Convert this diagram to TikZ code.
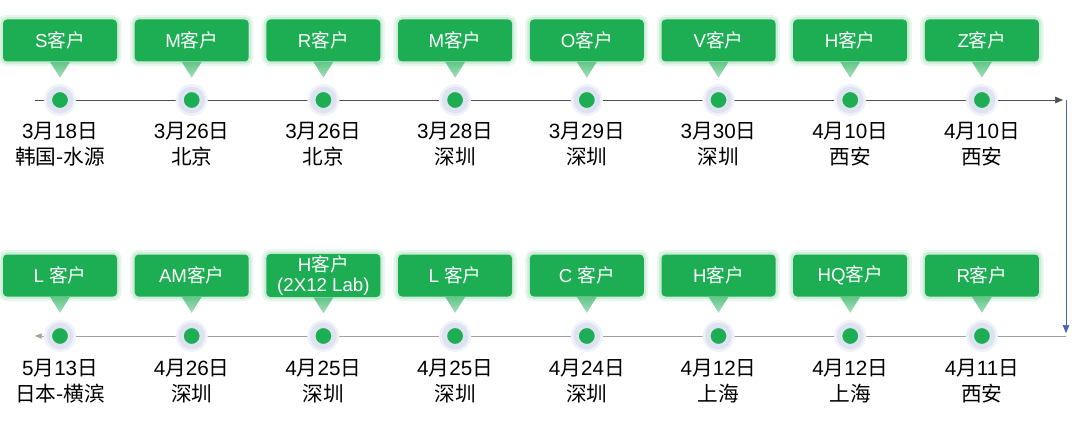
\documentclass[tikz,border=0pt]{standalone}
\usepackage{fontspec}
\setmainfont{Liberation Sans}
\newfontfamily\cjk{Noto Sans CJK SC}
\newcommand{\cn}[1]{{\cjk #1}}
\usetikzlibrary{positioning,arrows.meta}

\definecolor{kgreen}{RGB}{29,174,84}
\definecolor{halo}{RGB}{221,227,240}
\definecolor{tline}{RGB}{160,160,160}
\definecolor{tarrow}{RGB}{80,80,80}
\definecolor{vblue}{RGB}{70,100,175}

\tikzset{
    custbox/.style={fill=kgreen, rounded corners=3pt, text=white,
        minimum width=85.5pt, minimum height=31.5pt, inner sep=1pt,
        align=center, font=\fontsize{14}{15.5}\selectfont,
        preaction={draw=kgreen!10, line width=7pt},
        preaction={draw=kgreen!22, line width=3.5pt}},
    tipshade/.style={top color=kgreen!70, bottom color=kgreen!40},
    dotnode/.style={circle, fill=kgreen, minimum size=16pt, inner sep=0pt,
        draw=halo, line width=4pt,
        preaction={draw=halo!45, line width=8pt}},
    datelabel/.style={anchor=north, inner sep=0pt, align=center,
        font=\fontsize{15.5}{19.5}\selectfont}
}

\begin{document}
\begin{tikzpicture}[x=0.75pt, y=-0.75pt]
    \useasboundingbox (0,0) rectangle (1080,431);

    % Timeline
    \coordinate (tstart) at (35,100);
    \coordinate (tend) at (1063,100);
    \coordinate (turn) at (1066,100);
    \coordinate (tdown) at (1066,333);
    \coordinate (bstart) at (1066,336);
    \coordinate (bend) at (35,336);
    \draw[tline, -{Triangle[length=6pt, width=5pt]}, tarrow] (tstart) -- (tend);
    \draw[vblue, -{Triangle[length=6pt, width=5pt]}] (turn) -- (tdown);
    \draw[tline, -{Triangle[length=5pt, width=4pt]}] (bstart) -- (bend);

    % Top row
    \foreach \i/\cust/\day/\city in {
        1/S\cn{客户}/3\cn{月}18\cn{日}/\cn{韩国-水源},
        2/M\cn{客户}/3\cn{月}26\cn{日}/\cn{北京},
        3/R\cn{客户}/3\cn{月}26\cn{日}/\cn{北京},
        4/M\cn{客户}/3\cn{月}28\cn{日}/\cn{深圳},
        5/O\cn{客户}/3\cn{月}29\cn{日}/\cn{深圳},
        6/V\cn{客户}/3\cn{月}30\cn{日}/\cn{深圳},
        7/H\cn{客户}/4\cn{月}10\cn{日}/\cn{西安},
        8/Z\cn{客户}/4\cn{月}10\cn{日}/\cn{西安}} {
        \node[custbox] (t\i) at ({60+131.7*(\i-1)},40.5) {\cust};
        \shade[tipshade] ([xshift=-7.5pt]t\i.south) -- ([xshift=7.5pt]t\i.south)
            -- ([yshift=-12pt]t\i.south) -- cycle;
        \node[dotnode] (tp\i) at ({60+131.7*(\i-1)},100) {};
        \node[datelabel] (td\i) at ({60+131.7*(\i-1)},122) {\day\\\city};
    }

    % Bottom row
    \foreach \i/\cust/\day/\city in {
        1/L \cn{客户}/5\cn{月}13\cn{日}/\cn{日本-横滨},
        2/AM\cn{客户}/4\cn{月}26\cn{日}/\cn{深圳},
        3/H\cn{客户}\\(2X12 Lab)/4\cn{月}25\cn{日}/\cn{深圳},
        4/L \cn{客户}/4\cn{月}25\cn{日}/\cn{深圳},
        5/C \cn{客户}/4\cn{月}24\cn{日}/\cn{深圳},
        6/H\cn{客户}/4\cn{月}12\cn{日}/\cn{上海},
        7/HQ\cn{客户}/4\cn{月}12\cn{日}/\cn{上海},
        8/R\cn{客户}/4\cn{月}11\cn{日}/\cn{西安}} {
        \node[custbox] (b\i) at ({60+131.7*(\i-1)},275.5) {\cust};
        \shade[tipshade] ([xshift=-7.5pt]b\i.south) -- ([xshift=7.5pt]b\i.south)
            -- ([yshift=-12pt]b\i.south) -- cycle;
        \node[dotnode] (bp\i) at ({60+131.7*(\i-1)},336) {};
        \node[datelabel] (bd\i) at ({60+131.7*(\i-1)},359) {\day\\\city};
    }
\end{tikzpicture}
\end{document}
